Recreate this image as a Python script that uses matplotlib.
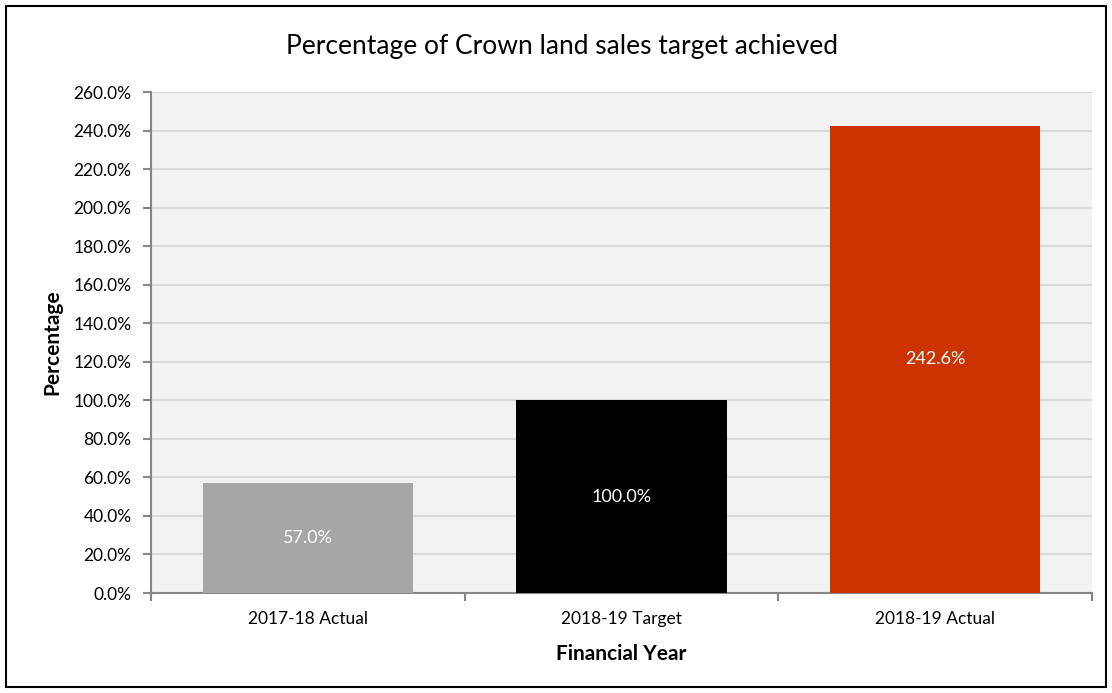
import matplotlib.pyplot as plt
from matplotlib.patches import Rectangle
from matplotlib.ticker import FuncFormatter, MultipleLocator

# Crown land sales vs target
categories = ['2017-18 Actual', '2018-19 Target', '2018-19 Actual']
values = [57.0, 100.0, 242.6]
colors = ['#a6a6a6', '#000000', '#cc3300']

plt.rcParams['font.family'] = ['Lato', 'DejaVu Sans']

fig = plt.figure(figsize=(11.12, 6.93), dpi=100)
ax = fig.add_axes([0.1358, 0.1443, 0.8462, 0.7229])

x = range(len(categories))
bars = ax.bar(x, values, width=0.67, color=colors, zorder=3)

# value labels inside the bars
for b, v in zip(bars, values):
    ax.text(b.get_x() + b.get_width() / 2, v / 2, f'{v:.1f}%',
            ha='center', va='center', color='white', fontsize=13, zorder=4)

ax.set_xlim(-0.5, len(categories) - 0.5)
ax.set_ylim(0, 260)
ax.yaxis.set_major_locator(MultipleLocator(20))
ax.yaxis.set_major_formatter(FuncFormatter(lambda v, p: f'{v:.1f}%'))

ax.set_xticks([i - 0.5 for i in range(len(categories) + 1)])
ax.set_xticklabels([])
ax.set_xticks(list(x), minor=True)
ax.set_xticklabels(categories, minor=True, fontsize=12.5)
ax.tick_params(axis='x', which='minor', length=0, pad=13)
ax.tick_params(axis='x', which='major', length=6, color='#868686', width=1.5)
ax.tick_params(axis='y', length=6, color='#868686', width=1.5, labelsize=12.5, pad=8)

ax.set_facecolor('#f2f2f2')
ax.grid(axis='y', color='#d9d9d9', linewidth=1.5, zorder=0)
for s in ['top', 'right']:
    ax.spines[s].set_visible(False)
for s in ['left', 'bottom']:
    ax.spines[s].set_color('#868686')
    ax.spines[s].set_linewidth(1.5)

ax.set_xlabel('Financial Year', fontsize=15, fontweight='bold', labelpad=12)
ax.set_ylabel('Percentage', fontsize=15, fontweight='bold', labelpad=8)
fig.text(0.505, 0.933, 'Percentage of Crown land sales target achieved',
         ha='center', va='center', fontsize=19)

# outer chart border
fig.patches.append(Rectangle((6 / 1112, 6 / 693), 1100 / 1112, 681 / 693,
                             transform=fig.transFigure, fill=False,
                             edgecolor='black', linewidth=1.5))

fig.savefig('out.png', dpi=100)
